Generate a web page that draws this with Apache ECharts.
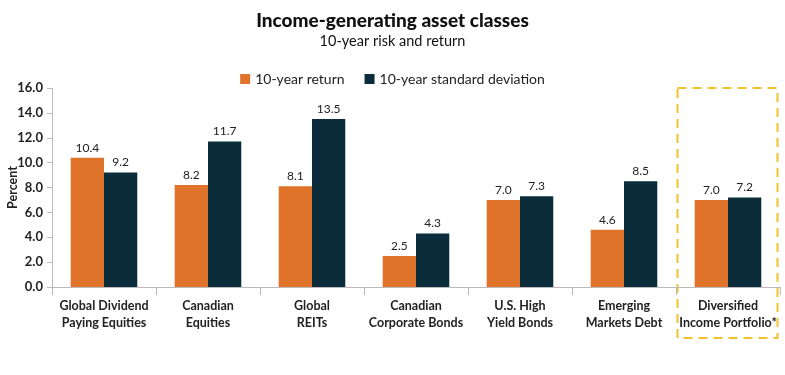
<!DOCTYPE html>
<html><head><meta charset="utf-8">
<script src="https://cdn.jsdelivr.net/npm/echarts@6/dist/echarts.min.js"></script>
<style>html,body{margin:0;padding:0;background:#fff}#c{width:785px;height:375px}</style>
</head><body><div id="c"></div>
<script>
const categories = ["Global Dividend\nPaying Equities","Canadian\nEquities","Global\nREITs","Canadian\nCorporate Bonds","U.S. High\nYield Bonds","Emerging\nMarkets Debt","Diversified\nIncome Portfolio*"];
const returns10 = [10.4, 8.2, 8.1, 2.5, 7.0, 4.6, 7.0];
const stdev10 = [9.2, 11.7, 13.5, 4.3, 7.3, 8.5, 7.2];
const seriesNames = ["10-year return", "10-year standard deviation"];
const yTicks = [0, 16, 2];

const FONT = 'Lato';
const chart = echarts.init(document.getElementById('c'));
const lbl = {show:true, position:'top', color:'#222', fontSize:12, fontFamily:FONT, distance:4, formatter:p=>p.value.toFixed(1)};
chart.setOption({
  animation:false,
  title:{text:'Income-generating asset classes', subtext:'10-year risk and return', left:'center', top:6,
    textStyle:{fontFamily:FONT, fontWeight:900, fontSize:19, color:'#111'},
    subtextStyle:{fontFamily:FONT, fontSize:14.5, color:'#111'}, itemGap:4},
  legend:{top:67, left:'center', itemWidth:10, itemHeight:10, itemGap:20, icon:'rect',
    textStyle:{fontFamily:FONT, fontSize:14, color:'#222'}},
  grid:{left:52, right:5, top:88, bottom:88, containLabel:false, outerBoundsMode:'none'},
  xAxis:{type:'category', data:categories,
    axisLine:{lineStyle:{color:'#bbb'}},
    axisTick:{show:true, length:8, lineStyle:{color:'#bbb'}},
    axisLabel:{fontFamily:FONT, fontWeight:'bold', fontSize:12.5, color:'#222', lineHeight:17, margin:10, interval:0}},
  yAxis:{type:'value', min:yTicks[0], max:yTicks[1], interval:yTicks[2],
    name:'Percent', nameLocation:'middle', nameGap:33, nameRotate:90, nameMoveOverlap:false,
    nameTextStyle:{fontFamily:FONT, fontWeight:'bold', fontSize:12.5, color:'#222'},
    axisLine:{show:true, lineStyle:{color:'#bbb'}},
    axisTick:{show:true, length:5, lineStyle:{color:'#bbb'}},
    splitLine:{show:false},
    axisLabel:{fontFamily:FONT, fontWeight:'bold', fontSize:13, color:'#222', margin:9, formatter:v=>v.toFixed(1)}},
  series:[
    {name:seriesNames[0], type:'bar', data:returns10, barGap:0, barCategoryGap:'36%', itemStyle:{color:'#E0732A'}, label:lbl},
    {name:seriesNames[1], type:'bar', data:stdev10, itemStyle:{color:'#0B2D3B'}, label:lbl}
  ]
});
// dashed highlight box around the last category
const last = categories.length - 1;
const c0 = chart.convertToPixel({xAxisIndex:0}, last);
const c1 = chart.convertToPixel({xAxisIndex:0}, last - 1);
const half = (c0 - c1) / 2;
const yTop = chart.convertToPixel({yAxisIndex:0}, yTicks[1]);
chart.setOption({graphic:[{type:'rect', shape:{x:c0 - half + 1.5, y:yTop, width:2*half - 4, height:338 - yTop},
  style:{fill:'none', stroke:'#F2C12E', lineWidth:2, lineDash:[9,6]}}]});
</script></body></html>
